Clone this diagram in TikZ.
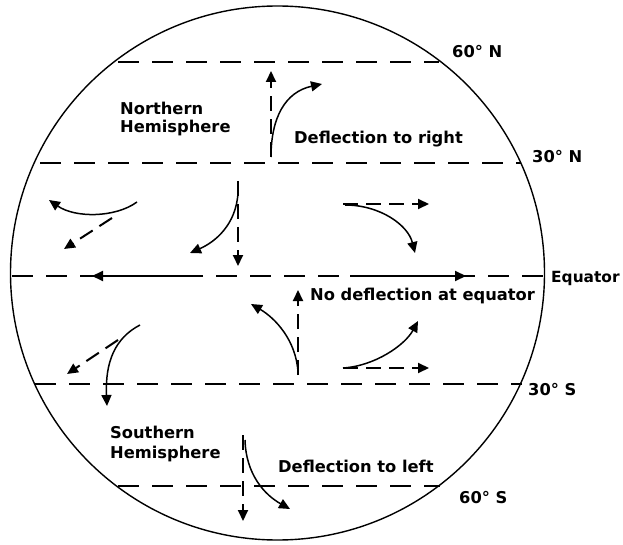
\documentclass[tikz,border=0pt]{standalone}
\usepackage{fontspec}
\setmainfont{DejaVu Sans}
\usetikzlibrary{arrows.meta}
\begin{document}
\begin{tikzpicture}[x=1pt,y=-1pt,
  lat/.style={line width=2pt, dash pattern=on 21pt off 13pt},
  latthin/.style={line width=1.2pt, dash pattern=on 21pt off 13pt},
  tip/.style={-{Triangle[length=11pt,width=10pt]}},
  curvearrow/.style={tip, line width=1.5pt},
  dasharrow/.style={tip, line width=2pt, dash pattern=on 15pt off 8pt},
  solidarrow/.style={tip, line width=2pt},
  lbl/.style={anchor=base west, inner sep=0pt, font=\fontsize{16.3}{19}\selectfont\bfseries}]
\useasboundingbox (0,0) rectangle (623,545);
% globe
\node[draw, circle, line width=1.4pt, minimum size=534pt, inner sep=0pt] (globe) at (277.5,273) {};
% latitude lines
\coordinate (n60a) at (118,62);  \coordinate (n60b) at (439,62);
\coordinate (n30a) at (40,163);  \coordinate (n30b) at (521,163);
\coordinate (eqa) at (12,276);   \coordinate (eqb) at (545,276);
\coordinate (s30a) at (35,384);  \coordinate (s30b) at (522,384);
\coordinate (s60a) at (118,486); \coordinate (s60b) at (440,486);
\draw[lat] (n60a) -- (n60b);
\draw[lat] (n30a) -- (n30b);
\draw[lat] (eqa) -- (eqb);
\draw[latthin] (s30a) -- (s30b);
\draw[lat] (s60a) -- (s60b);
% labels
\node[lbl] (l60n) at (452,58) {60° N};
\node[lbl] (l30n) at (532,163) {30° N};
\node[lbl, font=\fontsize{15.4}{19}\selectfont\bfseries] (leq) at (551,282) {Equator};
\node[lbl] (l30s) at (528,395) {30° S};
\node[lbl] (l60s) at (459,503) {60° S};
\node[lbl] (nh1) at (120,115) {Northern};
\node[lbl] (nh2) at (120,133) {Hemisphere};
\node[lbl] (dright) at (294,144) {Deflection to right};
\node[lbl] (noDefl) at (310,300) {No deflection at equator};
\node[lbl] (sh1) at (110,438) {Southern};
\node[lbl] (sh2) at (110,458) {Hemisphere};
\node[lbl] (dleft) at (278,472) {Deflection to left};
% arrow end points
\coordinate (a1s) at (271,157); \coordinate (a1e) at (271,71);
\coordinate (c1s) at (271,157); \coordinate (c1e) at (322,84);
\coordinate (c2s) at (137,202); \coordinate (c2e) at (49,200);
\coordinate (a2s) at (112,218); \coordinate (a2e) at (64,249);
\coordinate (a3s) at (238,181); \coordinate (a3e) at (238,266);
\coordinate (c3s) at (238,193); \coordinate (c3e) at (190,253);
\coordinate (a4s) at (343,204); \coordinate (a4e) at (429,204);
\coordinate (c4s) at (345,205); \coordinate (c4e) at (415,253);
\coordinate (e1s) at (203,276); \coordinate (e1e) at (92,276);
\coordinate (e2s) at (350,276); \coordinate (e2e) at (466,276);
\coordinate (a5s) at (298,375); \coordinate (a5e) at (298,290);
\coordinate (c5s) at (298,372); \coordinate (c5e) at (251,304);
\coordinate (c6s) at (140,325); \coordinate (c6e) at (107,406);
\coordinate (a6s) at (118,340); \coordinate (a6e) at (67,374);
\coordinate (a7s) at (343,368); \coordinate (a7e) at (429,368);
\coordinate (c7s) at (343,368); \coordinate (c7e) at (418,321);
\coordinate (a8s) at (243,435); \coordinate (a8e) at (243,521);
\coordinate (c8s) at (245,440); \coordinate (c8e) at (290,509);
% northern arrows
\draw[dasharrow] (a1s) -- (a1e);
\draw[curvearrow] (c1s) .. controls (271,118) and (285,92) .. (c1e);
\draw[curvearrow] (c2s) .. controls (115,218) and (75,218) .. (c2e);
\draw[dasharrow] (a2s) -- (a2e);
\draw[dasharrow] (a3s) -- (a3e);
\draw[curvearrow] (c3s) .. controls (236,225) and (215,242) .. (c3e);
\draw[dasharrow] (a4s) -- (a4e);
\draw[curvearrow] (c4s) .. controls (380,205) and (408,225) .. (c4e);
% equator arrows
\draw[solidarrow] (e1s) -- (e1e);
\draw[solidarrow] (e2s) -- (e2e);
% southern arrows
\draw[dasharrow] (a5s) -- (a5e);
\draw[curvearrow] (c5s) .. controls (296,340) and (275,318) .. (c5e);
\draw[curvearrow] (c6s) .. controls (115,338) and (105,362) .. (c6e);
\draw[dasharrow] (a6s) -- (a6e);
\draw[dasharrow] (a7s) -- (a7e);
\draw[curvearrow] (c7s) .. controls (375,366) and (405,345) .. (c7e);
\draw[dasharrow] (a8s) -- (a8e);
\draw[curvearrow] (c8s) .. controls (246,475) and (265,495) .. (c8e);
\end{tikzpicture}
\end{document}
